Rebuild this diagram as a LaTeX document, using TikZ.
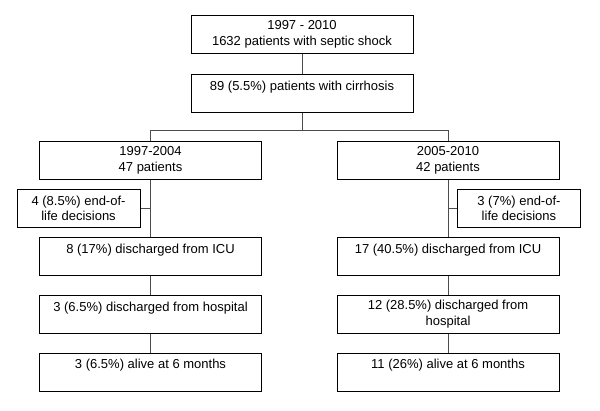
\documentclass[tikz,border=0pt]{standalone}
\usepackage{fontspec}
\setsansfont{Liberation Sans}
\usepackage{xcolor}
\colorlet{linegray}{black!70}
\usepackage{tikz}
\usetikzlibrary{positioning,calc}

\begin{document}
\begin{tikzpicture}[x=1pt,y=1pt,node distance=19pt,
  every node/.style={font=\sffamily\fontsize{13}{15.5}\selectfont,align=center},
  box/.style={draw=black,line width=0.9pt,minimum width=222pt,minimum height=38pt,inner xsep=4pt,inner ysep=5pt},
  sidebox/.style={box,minimum width=123pt},
  link/.style={draw=linegray,line width=0.9pt}]
\useasboundingbox (0,0) rectangle (600,-411);
\node[box] (total) at (302,-34.5) {1997 - 2010\\1632 patients with septic shock};
\node[box,below=20pt of total] (cirr) {89 (5.5\%) patients with cirrhosis\\~};
% two periods
\node[box,below=28pt of cirr,xshift=-151.5pt] (early) {1997-2004\\47 patients};
\node[box,below=28pt of cirr,xshift=146pt] (late) {2005-2010\\42 patients};
\node[box,below=57pt of early] (icuA) {8 (17\%) discharged from ICU\\~};
\node[box,below=of icuA] (hospA) {3 (6.5\%) discharged from hospital\\~};
\node[box,below=of hospA] (aliveA) {3 (6.5\%) alive at 6 months\\~};
\node[box,below=57pt of late] (icuB) {17 (40.5\%) discharged from ICU\\~};
\node[box,below=of icuB] (hospB) {12 (28.5\%) discharged from\\hospital};
\node[box,below=of hospB] (aliveB) {11 (26\%) alive at 6 months\\~};
% end-of-life side boxes
\coordinate (splitA) at ($(early.south)!.5!(icuA.north)$);
\coordinate (splitB) at ($(late.south)!.5!(icuB.north)$);
\node[sidebox,left=10pt of splitA] (eolA) {4 (8.5\%) end-of-\\life decisions};
\node[sidebox,right=9pt of splitB] (eolB) {3 (7\%) end-of-\\life decisions};
% connectors
\draw[link] (total)--(cirr);
\draw[link] (cirr.south)--++(0,-18pt) coordinate (fork);
\draw[link] (early.north)|-(fork)-|(late.north);
\draw[link] (early)--(icuA);\draw[link] (icuA)--(hospA);\draw[link] (hospA)--(aliveA);
\draw[link] (late)--(icuB);\draw[link] (icuB)--(hospB);\draw[link] (hospB)--(aliveB);
\draw[link] (eolA)--(splitA);\draw[link] (eolB)--(splitB);
\end{tikzpicture}
\end{document}
